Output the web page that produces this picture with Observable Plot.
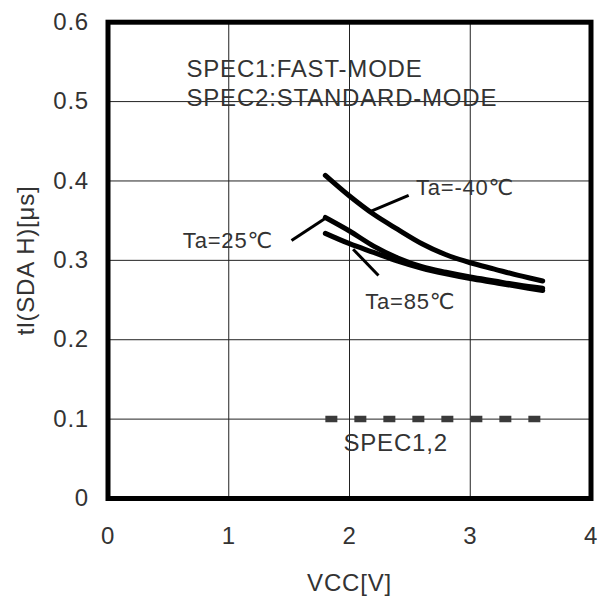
<!DOCTYPE html>
<html>
<head>
<meta charset="utf-8">
<script src="https://cdn.jsdelivr.net/npm/d3@7"></script>
<script src="https://cdn.jsdelivr.net/npm/@observablehq/plot@0.6"></script>
<style>
  html, body { margin: 0; padding: 0; background: #fff; }
  #chart svg { display: block; }
  #chart text { letter-spacing: 0.8px; }
</style>
</head>
<body>
<div id="chart"></div>
<script>
// ---- data ----
const xTicks = [0, 1, 2, 3, 4];
const yTicks = [0, 0.1, 0.2, 0.3, 0.4, 0.5, 0.6];
const vcc = [1.8, 2.0, 2.2, 2.4, 2.6, 2.8, 3.0, 3.2, 3.4, 3.6];
const taMinus40 = [0.407, 0.381, 0.358, 0.339, 0.321, 0.307, 0.297, 0.289, 0.281, 0.274];
const ta25      = [0.354, 0.337, 0.318, 0.303, 0.292, 0.285, 0.279, 0.274, 0.269, 0.265];
const ta85      = [0.334, 0.321, 0.310, 0.299, 0.290, 0.283, 0.277, 0.272, 0.267, 0.262];
const specX = [1.8, 3.6];
const specY = [0.1, 0.1];

const leaders = [
  {name: "Ta=-40℃", x1: 2.18, y1: 0.362, x2: 2.49, y2: 0.382},
  {name: "Ta=25℃",  x1: 1.52, y1: 0.325, x2: 1.81, y2: 0.354},
  {name: "Ta=85℃",  x1: 2.03, y1: 0.314, x2: 2.24, y2: 0.281}
];
const taLabels = [
  {text: "Ta=-40℃", x: 2.55, y: 0.391},
  {text: "Ta=25℃",  x: 0.62, y: 0.325},
  {text: "Ta=85℃",  x: 2.13, y: 0.248}
];
const noteLabels = [
  {text: "SPEC1,2", x: 1.95, y: 0.070},
  {text: "SPEC1:FAST-MODE", x: 0.65, y: 0.541},
  {text: "SPEC2:STANDARD-MODE", x: 0.65, y: 0.504}
];
const xLabel = "VCC[V]";
const yLabel = "tl(SDA H)[μs]";

// ---- tables built from the arrays ----
const series = [
  ...vcc.map((x, i) => ({x, y: taMinus40[i], s: "-40"})),
  ...vcc.map((x, i) => ({x, y: ta25[i], s: "25"})),
  ...vcc.map((x, i) => ({x, y: ta85[i], s: "85"}))
];
const spec = specX.map((x, i) => ({x, y: specY[i]}));

const FONT = "'Liberation Sans', Arial, 'DejaVu Sans', sans-serif";
const FS = 24;
const TXT = "#333";

const chart = Plot.plot({
  width: 611,
  height: 599,
  marginLeft: 107.5,
  marginRight: 20.5,
  marginTop: 21.7,
  marginBottom: 101,
  style: {fontFamily: FONT, fontSize: FS + "px", color: TXT, background: "#fff"},
  x: {domain: [0, 4], ticks: xTicks, tickSize: 0, tickPadding: 28, label: null,
      tickFormat: d => String(d)},
  y: {domain: [0, 0.6], ticks: yTicks, tickSize: 0, tickPadding: 19, label: null,
      tickFormat: d => d === 0 ? "0" : d3.format(".1f")(d)},
  marks: [
    Plot.gridX(xTicks.filter(d => d > 0 && d < 4), {stroke: "#222", strokeOpacity: 1, strokeWidth: 1}),
    Plot.gridY(yTicks.filter(d => d > 0 && d < 0.6), {stroke: "#222", strokeOpacity: 1, strokeWidth: 1}),
    Plot.line(spec, {x: "x", y: "y", stroke: "#3a3a3a", strokeWidth: 6.5, strokeDasharray: "12,17", strokeLinecap: "butt"}),
    Plot.line(series, {x: "x", y: "y", z: "s", stroke: "#000", strokeWidth: 5, curve: "catmull-rom"}),
    Plot.link(leaders, {x1: "x1", y1: "y1", x2: "x2", y2: "y2", stroke: "#000", strokeWidth: 3}),
    Plot.text(taLabels, {x: "x", y: "y", text: "text", textAnchor: "start", fill: TXT, fontSize: 22, fontFamily: FONT}),
    Plot.text(noteLabels, {x: "x", y: "y", text: "text", textAnchor: "start", fill: TXT, fontSize: FS, fontFamily: FONT}),
    Plot.frame({stroke: "#000", strokeWidth: 5}),
    Plot.text([xLabel], {frameAnchor: "bottom", textAnchor: "middle", lineAnchor: "middle", dy: 85, text: d => d, fill: TXT, fontSize: FS, fontFamily: FONT}),
    Plot.text([yLabel], {frameAnchor: "left", textAnchor: "middle", lineAnchor: "middle", dx: -82, rotate: -90, text: d => d, fill: TXT, fontSize: FS, fontFamily: FONT})
  ]
});
document.getElementById("chart").appendChild(chart);
</script>
</body>
</html>
